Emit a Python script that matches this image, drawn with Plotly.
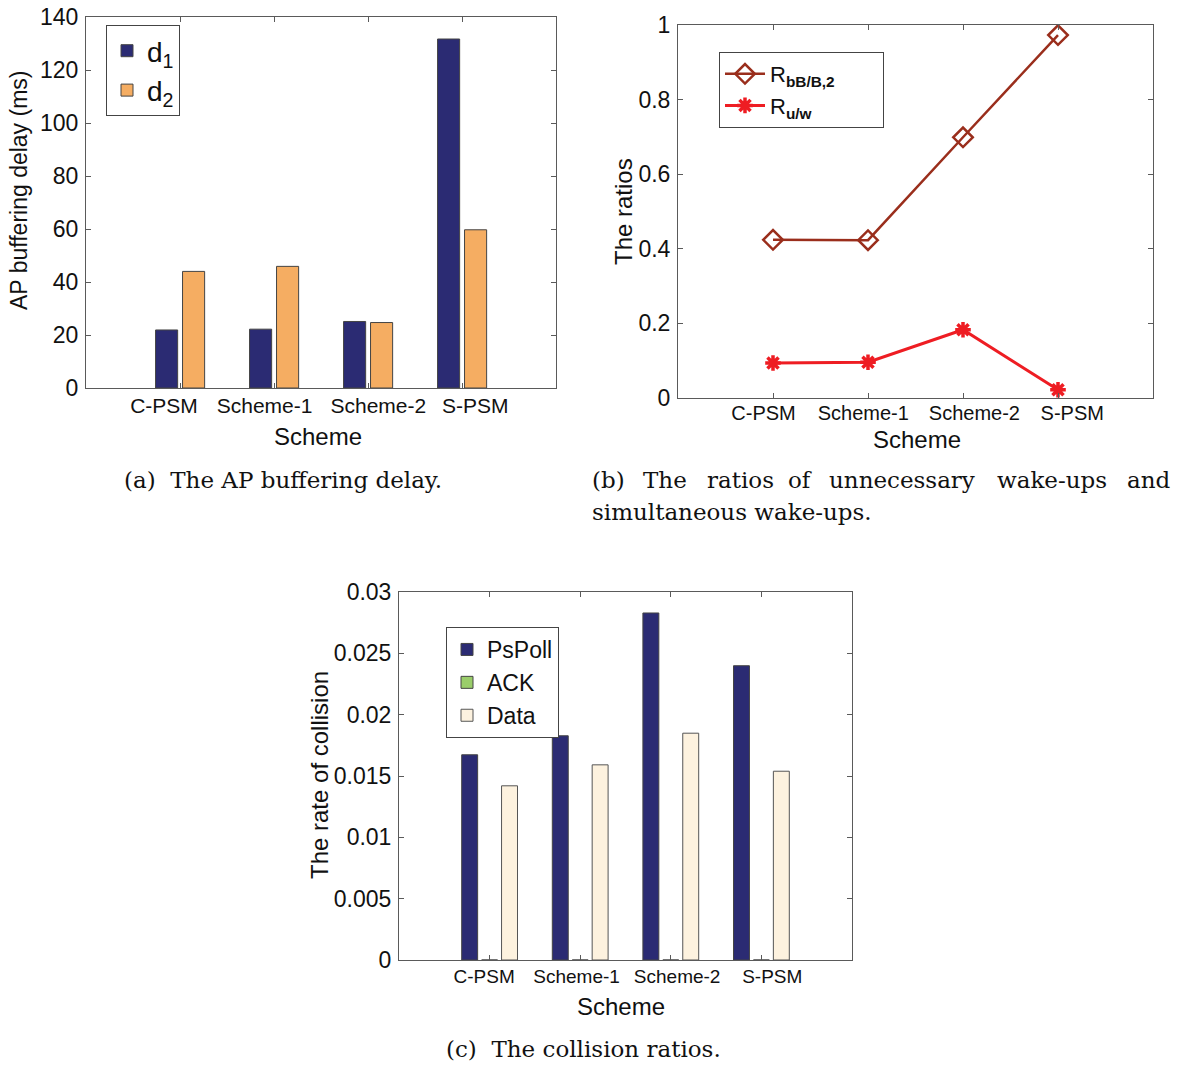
import plotly.graph_objects as go

# ---------------- data ----------------
schemes = ["C-PSM", "Scheme-1", "Scheme-2", "S-PSM"]

# (a) AP buffering delay (ms)
d1_delay = [21.9, 22.2, 25.1, 131.7]
d2_delay = [44.0, 45.9, 24.7, 59.7]

# (b) ratios
r_bbb2 = [0.424, 0.423, 0.699, 0.973]
r_uw = [0.094, 0.096, 0.183, 0.022]

# (c) collision rate
pspoll_rate = [0.01673, 0.01828, 0.02829, 0.02399]
ack_rate = [0.0, 0.0, 0.0, 0.0]
data_rate = [0.01420, 0.01591, 0.01849, 0.01539]

yticks_a = [0, 20, 40, 60, 80, 100, 120, 140]
yticks_b = [0, 0.2, 0.4, 0.6, 0.8, 1.0]
yticks_c = [0, 0.005, 0.01, 0.015, 0.02, 0.025, 0.03]

# ---------------- style ----------------
W, H = 1182, 1065
FONT = "Liberation Sans, Arial, sans-serif"
SERIF = "DejaVu Serif, serif"
AX = "#5a5a5a"
NAVY = "#2b2b73"
ORANGE = "#f5ad62"
GREEN = "#9acd6a"
CREAM = "#fdf2df"
BROWN = "#9a2e1c"
RED = "#ee1d23"

xpos = list(range(1, len(schemes) + 1))
# the tick labels in the original figure are spread slightly away from the tick marks
label_shift_a = [-0.17, -0.10, 0.11, 0.14]
label_shift_b = [-0.10, -0.05, 0.12, 0.15]
label_shift_c = [-0.06, -0.04, 0.07, 0.12]


def px_x(p):
    return p / W


def px_y(p):
    return 1 - p / H


fig = go.Figure()

# (a)
fig.add_trace(go.Bar(x=xpos, y=d1_delay, name="d<sub>1</sub>", width=0.235, offset=-0.26,
                     marker=dict(color=NAVY, line=dict(color="#444", width=1)),
                     xaxis="x", yaxis="y", legend="legend"))
fig.add_trace(go.Bar(x=xpos, y=d2_delay, name="d<sub>2</sub>", width=0.235, offset=0.027,
                     marker=dict(color=ORANGE, line=dict(color="#444", width=1)),
                     xaxis="x", yaxis="y", legend="legend"))

# (b)
PAD = "&nbsp;" * 7
fig.add_trace(go.Scatter(x=xpos, y=r_bbb2, mode="lines+markers", name="R<sub><b>bB/B,2</b></sub>" + PAD,
                         line=dict(color=BROWN, width=2.5),
                         marker=dict(symbol="diamond-open", size=15, color=BROWN, line=dict(width=2.5, color=BROWN)),
                         xaxis="x2", yaxis="y2", legend="legend2"))
fig.add_trace(go.Scatter(x=xpos, y=r_uw, mode="lines+markers", name="R<sub><b>u/w</b></sub>",
                         line=dict(color=RED, width=3),
                         marker=dict(symbol="asterisk-open", size=13, color=RED, line=dict(width=3.5, color=RED)),
                         xaxis="x2", yaxis="y2", legend="legend2"))

# (c)
fig.add_trace(go.Bar(x=xpos, y=pspoll_rate, name="PsPoll", width=0.176, offset=-0.308,
                     marker=dict(color=NAVY, line=dict(color="#444", width=1)),
                     xaxis="x3", yaxis="y3", legend="legend3"))
fig.add_trace(go.Bar(x=xpos, y=ack_rate, name="ACK", width=0.176, offset=-0.088,
                     marker=dict(color=GREEN, line=dict(color="#444", width=1)),
                     xaxis="x3", yaxis="y3", legend="legend3"))
fig.add_trace(go.Bar(x=xpos, y=data_rate, name="Data", width=0.176, offset=0.132,
                     marker=dict(color=CREAM, line=dict(color="#555", width=1)),
                     xaxis="x3", yaxis="y3", legend="legend3"))


def xaxis(domain, anchor, size, standoff, shifts):
    return dict(domain=domain, anchor=anchor, range=[0, 5], tickmode="array",
                tickvals=[p + s for p, s in zip(xpos, shifts)], ticktext=schemes,
                showline=True, linecolor=AX, linewidth=1, mirror="allticks",
                ticks="", showgrid=False, zeroline=False,
                minor=dict(tickmode="array", tickvals=xpos, ticks="inside", ticklen=5,
                           tickcolor=AX, showgrid=False),
                automargin=False, tickangle=0,
                tickfont=dict(family=FONT, size=size, color="#111"), ticklabelstandoff=standoff)


def yaxis(domain, anchor, rng, tv, size):
    return dict(domain=domain, anchor=anchor, range=rng, tickmode="array", tickvals=tv,
                showline=True, linecolor=AX, linewidth=1, mirror="allticks",
                ticks="inside", ticklen=5, tickcolor=AX, showgrid=False, zeroline=False,
                automargin=False,
                tickfont=dict(family=FONT, size=size, color="#111"), ticklabelstandoff=2)


dom_a_x = [px_x(86), px_x(556)]
dom_a_y = [px_y(388), px_y(17)]
dom_b_x = [px_x(678), px_x(1153)]
dom_b_y = [px_y(398), px_y(25)]
dom_c_x = [px_x(399), px_x(852)]
dom_c_y = [px_y(960), px_y(592)]

legend_common = dict(xref="paper", yref="paper", xanchor="left", yanchor="top",
                     bgcolor="white", bordercolor="#444", borderwidth=1, traceorder="normal")

fig.update_layout(
    width=W, height=H, margin=dict(l=0, r=0, t=0, b=0, autoexpand=False),
    paper_bgcolor="white", plot_bgcolor="white",
    barmode="overlay",
    font=dict(family=FONT, color="#111"),
    xaxis=xaxis(dom_a_x, "y", 21, -1, label_shift_a),
    yaxis=yaxis(dom_a_y, "x", [0, 140], yticks_a, 23),
    xaxis2=xaxis(dom_b_x, "y2", 20, -3, label_shift_b),
    yaxis2=yaxis(dom_b_y, "x2", [0, 1], yticks_b, 23),
    xaxis3=xaxis(dom_c_x, "y3", 19, -1, label_shift_c),
    yaxis3=yaxis(dom_c_y, "x3", [0, 0.03], yticks_c, 23),
    legend=dict(legend_common, x=px_x(106), y=px_y(25), font=dict(family=FONT, size=28)),
    legend2=dict(legend_common, x=px_x(719), y=px_y(52), font=dict(family=FONT, size=22), itemwidth=40),
    legend3=dict(legend_common, x=px_x(446), y=px_y(627), font=dict(family=FONT, size=23)),
    showlegend=True,
)

ann = []


def text(x, y, s, size, family=FONT, angle=0, xanchor="center"):
    ann.append(dict(x=px_x(x), y=px_y(y), xref="paper", yref="paper", text=s, showarrow=False,
                    xanchor=xanchor, yanchor="middle", textangle=angle, borderpad=0,
                    font=dict(family=family, size=size, color="#111")))


# axis titles
text(19, 190, "AP buffering delay (ms)", 23, angle=-90)
text(318, 437, "Scheme", 24)
text(623, 212, "The ratios", 24, angle=-90)
text(917, 440, "Scheme", 24)
text(319, 775, "The rate of collision", 24, angle=-90)
text(621, 1006, "Scheme", 24)

# captions
CAP = 23
text(283, 480, "(a)  The AP buffering delay.", CAP, family=SERIF)
text(591, 480, "(b)", CAP, family=SERIF, xanchor="left")
words_b = [("The", 665), ("ratios", 740), ("of", 800), ("unnecessary", 902), ("wake-ups", 1052)]
for w, xx in words_b:
    text(xx, 480, w, CAP, family=SERIF)
text(1172, 480, "and", CAP, family=SERIF, xanchor="right")
text(591, 512, "simultaneous wake-ups.", CAP, family=SERIF, xanchor="left")
text(583, 1049, "(c)  The collision ratios.", CAP, family=SERIF)

fig.update_layout(annotations=ann)

fig.write_html("out.html", config={"displayModeBar": False},
               post_script="document.body.style.margin='0px';")
